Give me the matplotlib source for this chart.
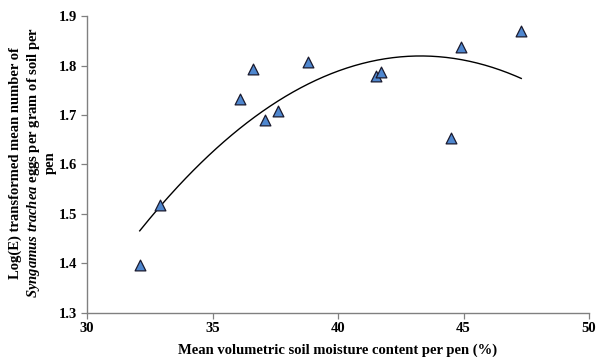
import matplotlib
matplotlib.use("Agg")
import matplotlib.pyplot as plt
import numpy as np

# mean soil moisture (%) and log(E) egg counts per pen
moisture = [32.1, 32.9, 36.1, 36.6, 37.1, 37.6, 38.8, 41.5, 41.7, 44.5, 44.9, 47.3]
log_eggs = [1.397, 1.518, 1.733, 1.793, 1.690, 1.708, 1.807, 1.779, 1.786, 1.653, 1.838, 1.869]

xticks = [30, 35, 40, 45, 50]
yticks = [1.3, 1.4, 1.5, 1.6, 1.7, 1.8, 1.9]

plt.rcParams['font.family'] = 'Liberation Serif'
plt.rcParams['font.weight'] = 'bold'
plt.rcParams['mathtext.fontset'] = 'custom'
plt.rcParams['mathtext.it'] = 'Liberation Serif:italic:bold'
plt.rcParams['mathtext.rm'] = 'Liberation Serif:bold'

fig = plt.figure(figsize=(5.98, 3.57), dpi=100)
ax = fig.add_axes([0.1455, 0.124, 0.8395, 0.831])

# 2nd order polynomial trendline
coef = np.polyfit(moisture, log_eggs, 2)
xs = np.linspace(min(moisture), max(moisture), 200)
ax.plot(xs, np.polyval(coef, xs), color='black', lw=1.0, zorder=2)

ax.scatter(moisture, log_eggs, marker='^', s=60, facecolor='#4f87cf',
           edgecolor='#1a1a2e', linewidth=0.9, zorder=3)

ax.set_xlim(30, 50)
ax.set_ylim(1.3, 1.9)
ax.set_xticks(xticks)
ax.set_yticks(yticks)
ax.set_xticklabels([str(t) for t in xticks])
ax.set_yticklabels([f"{t:.1f}" for t in yticks])
ax.tick_params(direction='out', length=4, width=0.9, color='#808080',
               labelsize=10.5, pad=3)

for s in ['top', 'right']:
    ax.spines[s].set_visible(False)
for s in ['left', 'bottom']:
    ax.spines[s].set_color('#808080')
    ax.spines[s].set_linewidth(1.0)

ax.set_xlabel('Mean volumetric soil moisture content per pen (%)', fontsize=10.5,
              fontweight='bold', labelpad=6)
ax.set_ylabel('Log(E) transformed mean number of\n'
              r'$Syngamus\ trachea$ eggs per gram of soil per' '\npen',
              fontsize=10.5, fontweight='bold', linespacing=1.25)
ax.yaxis.label.set_va('center')
ax.yaxis.set_label_coords(-0.108, 0.505)

fig.savefig('out.png', dpi=100)
